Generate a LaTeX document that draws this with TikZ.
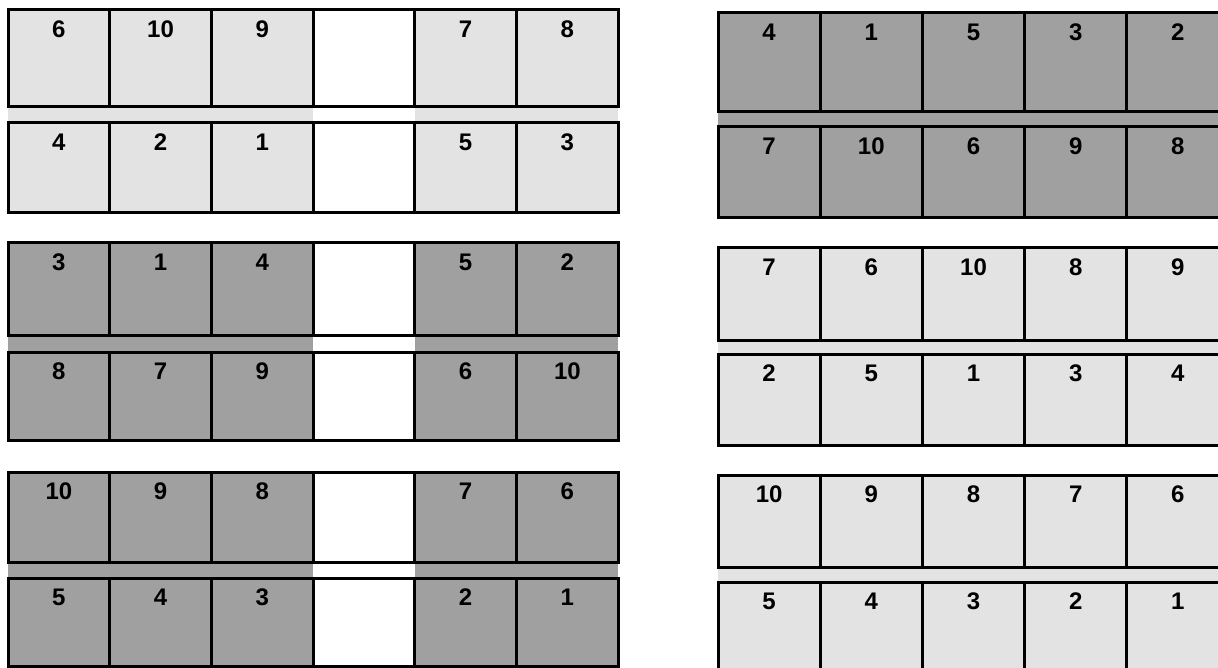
\documentclass[tikz,border=0pt]{standalone}
\usepackage{fontspec}
\setsansfont{Liberation Sans}
\usetikzlibrary{positioning,backgrounds}
\definecolor{cLight}{HTML}{E3E3E3}
\definecolor{cDark}{HTML}{A0A0A0}
\tikzset{
  cell/.style={draw=black, line width=3pt, fill=#1, anchor=north west,
               inner sep=0pt, outer sep=0pt},
  num/.style={font=\sffamily\bfseries\fontsize{24}{24}\selectfont, inner sep=0pt, anchor=north},
  band/.style={fill=#1},
}

\begin{document}
\begin{tikzpicture}[x=1pt,y=-1pt]
  \useasboundingbox (0,0) rectangle (1218,668);
  % one entry per row: group/row/left x/pitch/top y/height/fill/open seat/numbers
  \foreach \g/\r/\xo/\p/\yt/\h/\fc/\op/\lbl in {
      L1/a/8/101.7/10/97/cLight/4/{6,10,9,,7,8},
      L1/b/8/101.7/123/90/cLight/4/{4,2,1,,5,3},
      L2/a/8/101.7/243/92/cDark/4/{3,1,4,,5,2},
      L2/b/8/101.7/352/88/cDark/4/{8,7,9,,6,10},
      L3/a/8/101.7/472/90/cDark/4/{10,9,8,,7,6},
      L3/b/8/101.7/578/88/cDark/4/{5,4,3,,2,1},
      R1/a/718/102.2/13/99/cDark/0/{4,1,5,3,2},
      R1/b/718/102.2/127/91/cDark/0/{7,10,6,9,8},
      R2/a/718/102.2/248/92/cLight/0/{7,6,10,8,9},
      R2/b/718/102.2/354/91/cLight/0/{2,5,1,3,4},
      R3/a/718/102.2/475/92/cLight/0/{10,9,8,7,6},
      R3/b/718/102.2/582/93/cLight/0/{5,4,3,2,1}}{
    \foreach \n [count=\k] in \lbl {
      \ifnum\k=\op\relax\def\cf{white}\else\def\cf{\fc}\fi
      \node[cell=\cf, minimum width=\p pt, minimum height=\h pt] (\g-\r-\k) at ({\xo+(\k-1)*\p},\yt) {};
      \node[num, below=11pt of \g-\r-\k.north] (\g-\r-\k-n) {\n};
    }
  }
  % shaded strip between the two rows of each block
  \begin{scope}[on background layer]
    \fill[band=cLight] (L1-a-1.south west) rectangle (L1-b-3.north east);
    \fill[band=cLight] (L1-a-5.south west) rectangle (L1-b-6.north east);
    \fill[band=cDark] (L2-a-1.south west) rectangle (L2-b-3.north east);
    \fill[band=cDark] (L2-a-5.south west) rectangle (L2-b-6.north east);
    \fill[band=cDark] (L3-a-1.south west) rectangle (L3-b-3.north east);
    \fill[band=cDark] (L3-a-5.south west) rectangle (L3-b-6.north east);
    \fill[band=cDark] (R1-a-1.south west) rectangle (R1-b-5.north east);
    \fill[band=cLight] (R2-a-1.south west) rectangle (R2-b-5.north east);
    \fill[band=cLight] (R3-a-1.south west) rectangle (R3-b-5.north east);
  \end{scope}
\end{tikzpicture}
\end{document}
